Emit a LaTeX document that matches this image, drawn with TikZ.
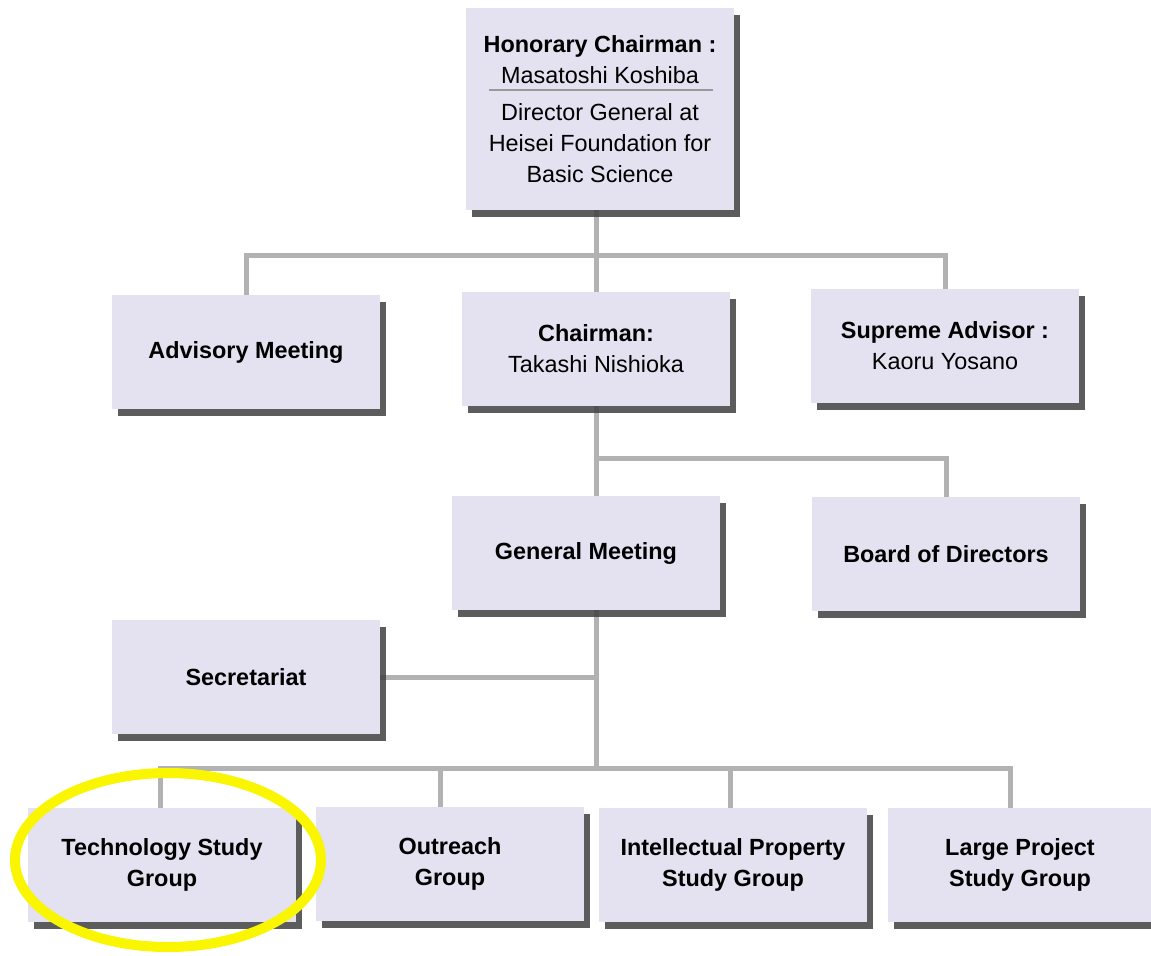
\documentclass[tikz,border=0pt]{standalone}
\usepackage{fontspec}
\setmainfont{Liberation Sans}
\usepackage{tikz}
\usetikzlibrary{shadows,shapes.geometric,backgrounds}
\definecolor{boxfill}{RGB}{228,225,240}
\definecolor{linkgray}{RGB}{178,178,178}
\definecolor{ringyellow}{RGB}{250,245,0}
\newcommand{\orgtitle}[2]{\textbf{#1}\\#2}

\begin{document}
\begin{tikzpicture}[x=0.5pt,y=-0.5pt,
	orgbox/.style={fill=boxfill, align=center, inner sep=0pt,
		minimum width=134pt, minimum height=57pt,
		font=\fontsize{11.7}{15.5}\selectfont,
		drop shadow={shadow xshift=3pt, shadow yshift=-3.5pt, fill=black!75, opacity=.85}},
	link/.style={draw=linkgray, line width=2.5pt},
	sepline/.style={draw=gray!80, line width=1pt},
	ring/.style={draw=ringyellow, line width=5pt, ellipse, minimum width=153pt, minimum height=87pt}]
	\clip (0,0) rectangle (1151,955);
	\node[orgbox, minimum height=101pt] (hon) at (600,109) {\textbf{Honorary Chairman :}\\Masatoshi Koshiba\\[3pt]Director General at\\Heisei Foundation for\\Basic Science};
	\draw[sepline] (489,90) -- (713,90);
	\node[orgbox] (adv) at (246,352) {\textbf{Advisory Meeting}};
	\node[orgbox] (chair) at (596,349) {\orgtitle{Chairman:}{Takashi Nishioka}};
	\node[orgbox] (sup) at (945,346) {\orgtitle{Supreme Advisor :}{Kaoru Yosano}};
	\node[orgbox] (gen) at (586,553) {\textbf{General Meeting}};
	\node[orgbox] (board) at (946,554) {\textbf{Board of Directors}};
	\node[orgbox] (sec) at (246,677) {\textbf{Secretariat}};
	\node[orgbox] (tech) at (162,865) {\textbf{Technology Study}\\\textbf{Group}};
	\node[orgbox] (outr) at (450,864) {\textbf{Outreach}\\\textbf{Group}};
	\node[orgbox] (ip) at (733,865) {\textbf{Intellectual Property}\\\textbf{Study Group}};
	\node[orgbox, minimum width=132pt] (large) at (1020,865) {\textbf{Large Project}\\\textbf{Study Group}};
	\begin{scope}[on background layer]
		\coordinate (topbar) at (596,255);
		\coordinate (midbar) at (596,458);
		\coordinate (lowbar) at (596,768);
		\draw[link] (hon.south -| chair.north) -- (chair.north);
		\draw[link] (adv.north) |- (topbar) -| (sup.north);
		\draw[link] (chair.south) -- (chair.south |- gen.north);
		\draw[link] (midbar) -| (board.north);
		\draw[link] (gen.south -| chair.south) -- (lowbar);
		\draw[link] (sec.east) -- (sec.east -| lowbar);
		\draw[link] ([xshift=-1pt]tech.north) |- (lowbar) -| ([xshift=-5pt]large.north);
		\draw[link] ([xshift=-5pt]outr.north) -- ([xshift=-5pt]outr.north |- lowbar);
		\draw[link] ([xshift=-1.5pt]ip.north) -- ([xshift=-1.5pt]ip.north |- lowbar);
	\end{scope}
	\node[ring] (hilite) at (168,860) {};
\end{tikzpicture}
\end{document}
